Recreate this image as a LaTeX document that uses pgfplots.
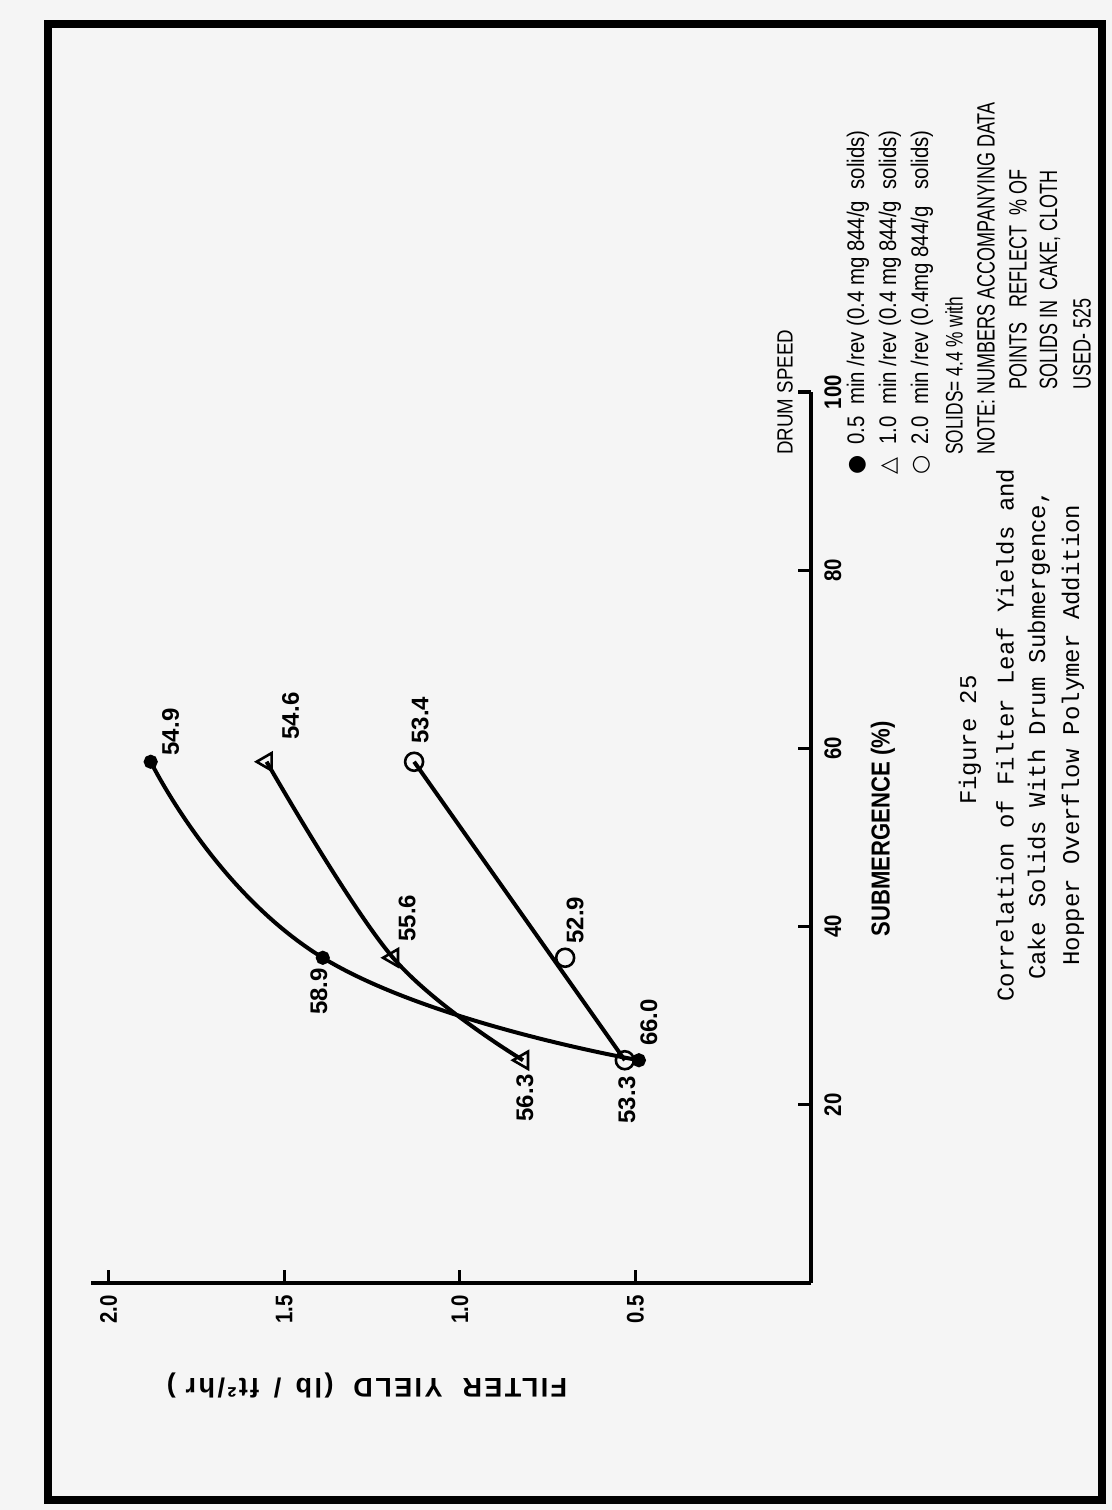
\documentclass[border=0pt]{standalone}
\usepackage{pgfplots}
\pgfplotsset{compat=1.18}
\usepackage{fontspec}
\setmainfont{Liberation Sans}
\newfontfamily\narrow{Liberation Sans}[FakeStretch=0.85]
\newfontfamily\cond{Liberation Sans}[FakeStretch=0.72]
\newfontfamily\wide{Liberation Sans Bold}[LetterSpace=9]
\newfontfamily\capfont{Liberation Mono}
\newfontfamily\symfont{DejaVu Sans}
\begin{document}
\begin{tikzpicture}
\path[use as bounding box, fill=black!4] (0pt,0pt) rectangle (556pt,755pt);
\draw[line width=4pt] (24pt,5pt) rectangle (551pt,743pt);
\begin{axis}[at={(45.5pt,113.5pt)}, anchor=south west, scale only axis,
  width=360pt, height=445.5pt,
  x dir=reverse,
  xmin=0, xmax=2.05, ymin=0, ymax=100,
  axis x line=bottom, axis y line=right,
  axis line style={-, line width=1.6pt},
  ytick={20,40,60,80,100}, xtick={0.5,1,1.5,2},
  tick align=inside, major tick length=6.5pt,
  tick style={line width=1.6pt, black},
  /pgf/number format/assume math mode=true,
  yticklabel style={font=\narrow\fontsize{12}{12}\selectfont\bfseries, rotate=90, anchor=north, inner sep=6.5pt},
  xticklabel style={font=\narrow\fontsize{12}{12}\selectfont\bfseries, rotate=90, anchor=east, inner sep=6pt,
    /pgf/number format/fixed, /pgf/number format/fixed zerofill,
    /pgf/number format/precision=1},
  clip=false]
\addplot[line width=2pt, smooth, tension=0.8, mark=*, mark size=2.5pt] coordinates {(0.49,25) (1.39,36.5) (1.88,58.5)};
\addplot[line width=2pt, smooth, tension=0.6, mark=triangle, mark size=5pt, mark options={fill=white, line width=1.3pt, rotate=90}] coordinates {(0.82,25) (1.19,36.5) (1.55,58.5)};
\addplot[line width=2pt, no marks] coordinates {(0.53,25) (1.13,58.5)};
\addplot[only marks, mark=o, mark size=4.5pt, mark options={fill=white, line width=1.3pt}] coordinates {(0.53,25) (0.70,36.5) (1.13,58.5)};
\begin{scope}[every node/.style={font=\fontsize{12}{12}\selectfont\bfseries, inner sep=0pt, rotate=90}]
\node[anchor=west] at ([shift={(10pt,3pt)}]axis cs:1.88,58.5) {54.9};
\node[anchor=east] at ([shift={(-2pt,-5pt)}]axis cs:1.39,36.5) {58.9};
\node[anchor=west] at ([shift={(5pt,7pt)}]axis cs:0.49,25) {66.0};
\node[anchor=west] at ([shift={(12pt,11pt)}]axis cs:1.55,58.5) {54.6};
\node[anchor=west] at ([shift={(7pt,8pt)}]axis cs:1.19,36.5) {55.6};
\node[anchor=east] at ([shift={(1pt,-7pt)}]axis cs:0.82,25) {56.3};
\node[anchor=west] at ([shift={(3pt,9pt)}]axis cs:1.13,58.5) {53.4};
\node[anchor=west] at ([shift={(5pt,7pt)}]axis cs:0.70,36.5) {52.9};
\node[anchor=east] at ([shift={(1pt,-8pt)}]axis cs:0.53,25) {53.3};
\end{scope}
\end{axis}
\node[rotate=90, font=\narrow\fontsize{13}{13}\selectfont\bfseries] at (441.5pt,340.5pt) {SUBMERGENCE (\%)};
\node[rotate=180, font=\wide\fontsize{13.5}{13.5}\selectfont] at (183.5pt,62.5pt) {FILTER \ YIELD \ (lb \,/\, ft²/hr )};
\begin{scope}[every node/.style={font=\narrow\fontsize{12}{12}\selectfont, inner sep=0pt, anchor=west, rotate=90}]
\node[font=\narrow\fontsize{11}{11}\selectfont] at (392.5pt,527.5pt) {DRUM SPEED};
\node[font=\symfont\fontsize{11}{11}\selectfont] at (429pt,517.5pt) {●};
\node at (429pt,532.5pt) {0.5 \ min /rev (0.4 mg 844/g \ solids)};
\node[font=\symfont\fontsize{11}{11}\selectfont] at (445pt,517.5pt) {△};
\node at (445pt,532.5pt) {1.0 \ min /rev (0.4 mg 844/g \ solids)};
\node[font=\symfont\fontsize{11}{11}\selectfont] at (461pt,517.5pt) {○};
\node at (461pt,532.5pt) {2.0 \ min /rev (0.4mg 844/g \ \ solids)};
\node[font=\cond\fontsize{12}{12}\selectfont] at (477pt,527.5pt) {SOLIDS= 4.4 \% with};
\node[font=\cond\fontsize{12.5}{12.5}\selectfont] at (493pt,527.5pt) {NOTE: NUMBERS ACCOMPANYING DATA};
\node[font=\cond\fontsize{12.5}{12.5}\selectfont] at (509pt,560pt) {POINTS \ \ REFLECT \ \% OF};
\node[font=\cond\fontsize{12.5}{12.5}\selectfont] at (525pt,560pt) {SOLIDS IN \ CAKE, CLOTH};
\node[font=\cond\fontsize{12.5}{12.5}\selectfont] at (541pt,560pt) {USED- 525};
\end{scope}
\begin{scope}[every node/.style={font=\capfont\fontsize{12}{17}\selectfont, inner sep=0pt, rotate=90}]
\node at (485pt,385pt) {Figure 25};
\node at (502.5pt,387.5pt) {Correlation of Filter Leaf Yields and};
\node at (519.5pt,387.5pt) {Cake Solids With Drum Submergence,};
\node at (536.5pt,387.5pt) {Hopper Overflow Polymer Addition};
\end{scope}
\end{tikzpicture}
\end{document}
